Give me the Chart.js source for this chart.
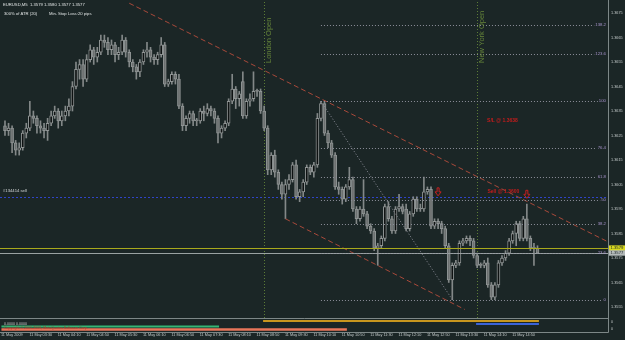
<!DOCTYPE html>
<html>
<head>
<meta charset="utf-8">
<script src="https://cdn.jsdelivr.net/npm/chart.js@4.4.0/dist/chart.umd.min.js"></script>
<style>
  html, body { margin: 0; padding: 0; background: #1b2626; }
  canvas { display: block; }
</style>
</head>
<body>
<canvas id="chart" width="625" height="340"></canvas>
<script>
// EURUSD M5, 11 May 2009 - one value per bar
const openP = [1.3629,1.3627,1.3628,1.3622,1.3619,1.3620,1.3626,1.3628,1.3633,1.3632,
  1.3629,1.3628,1.3627,1.3630,1.3633,1.3635,1.3631,1.3633,1.3635,1.3637,
  1.3645,1.3652,1.3654,1.3648,1.3656,1.3660,1.3657,1.3659,1.3664,1.3663,
  1.3660,1.3662,1.3658,1.3659,1.3664,1.3659,1.3655,1.3653,1.3651,1.3655,
  1.3659,1.3660,1.3657,1.3656,1.3658,1.3662,1.3646,1.3647,1.3650,1.3648,
  1.3637,1.3629,1.3632,1.3634,1.3631,1.3631,1.3635,1.3634,1.3636,1.3635,
  1.3632,1.3626,1.3628,1.3630,1.3639,1.3644,1.3640,1.3647,1.3633,1.3639,
  1.3640,1.3643,1.3643,1.3635,1.3628,1.3611,1.3617,1.3610,1.3605,1.3601,
  1.3605,1.3607,1.3613,1.3600,1.3602,1.3606,1.3612,1.3610,1.3613,1.3632,
  1.3638,1.3626,1.3622,1.3617,1.3604,1.3603,1.3599,1.3604,1.3607,1.3595,
  1.3591,1.3595,1.3593,1.3588,1.3586,1.3579,1.3580,1.3583,1.3596,1.3591,
  1.3586,1.3595,1.3596,1.3595,1.3587,1.3593,1.3599,1.3595,1.3595,1.3602,
  1.3603,1.3588,1.3590,1.3589,1.3587,1.3580,1.3566,1.3572,1.3573,1.3581,
  1.3582,1.3583,1.3582,1.3576,1.3572,1.3572,1.3573,1.3564,1.3559,1.3564,
  1.3573,1.3575,1.3577,1.3582,1.3585,1.3589,1.3583,1.3591,1.3583,1.3579,
  1.3579];
const highP = [1.3631,1.3630,1.3629,1.3623,1.3622,1.3627,1.3630,1.3639,1.3635,1.3633,
  1.3631,1.3630,1.3632,1.3635,1.3637,1.3636,1.3635,1.3637,1.3640,1.3647,
  1.3655,1.3656,1.3656,1.3658,1.3662,1.3661,1.3661,1.3666,1.3666,1.3665,
  1.3664,1.3663,1.3661,1.3666,1.3665,1.3660,1.3656,1.3654,1.3656,1.3660,
  1.3663,1.3661,1.3658,1.3659,1.3665,1.3663,1.3648,1.3651,1.3651,1.3650,
  1.3638,1.3633,1.3635,1.3635,1.3632,1.3636,1.3637,1.3638,1.3637,1.3636,
  1.3633,1.3629,1.3631,1.3640,1.3650,1.3645,1.3643,1.3651,1.3640,1.3642,
  1.3651,1.3644,1.3644,1.3637,1.3629,1.3618,1.3619,1.3611,1.3606,1.3607,
  1.3609,1.3614,1.3615,1.3603,1.3607,1.3613,1.3613,1.3614,1.3634,1.3639,
  1.3639,1.3627,1.3623,1.3618,1.3606,1.3604,1.3605,1.3612,1.3608,1.3596,
  1.3596,1.3607,1.3594,1.3589,1.3587,1.3581,1.3584,1.3597,1.3598,1.3592,
  1.3596,1.3601,1.3597,1.3597,1.3594,1.3600,1.3600,1.3597,1.3608,1.3604,
  1.3604,1.3591,1.3591,1.3590,1.3588,1.3581,1.3573,1.3574,1.3582,1.3583,
  1.3584,1.3584,1.3583,1.3577,1.3573,1.3574,1.3575,1.3565,1.3565,1.3574,
  1.3576,1.3578,1.3583,1.3586,1.3590,1.3590,1.3592,1.3597,1.3584,1.3581,
  1.3580];
const lowP = [1.3625,1.3625,1.3618,1.3617,1.3617,1.3619,1.3624,1.3627,1.3630,1.3626,
  1.3626,1.3624,1.3623,1.3629,1.3632,1.3628,1.3629,1.3631,1.3633,1.3635,
  1.3644,1.3648,1.3645,1.3647,1.3655,1.3654,1.3655,1.3658,1.3661,1.3658,
  1.3658,1.3655,1.3656,1.3658,1.3657,1.3653,1.3651,1.3648,1.3649,1.3654,
  1.3657,1.3655,1.3654,1.3654,1.3657,1.3645,1.3645,1.3646,1.3646,1.3636,
  1.3627,1.3627,1.3630,1.3629,1.3629,1.3630,1.3631,1.3633,1.3633,1.3630,
  1.3622,1.3624,1.3627,1.3629,1.3638,1.3636,1.3637,1.3632,1.3632,1.3637,
  1.3639,1.3641,1.3634,1.3627,1.3609,1.3609,1.3608,1.3603,1.3599,1.3591,
  1.3603,1.3606,1.3599,1.3598,1.3600,1.3605,1.3609,1.3608,1.3612,1.3631,
  1.3625,1.3620,1.3616,1.3603,1.3601,1.3597,1.3598,1.3603,1.3594,1.3589,
  1.3590,1.3592,1.3587,1.3585,1.3578,1.3572,1.3579,1.3582,1.3590,1.3585,
  1.3585,1.3594,1.3593,1.3586,1.3586,1.3592,1.3594,1.3594,1.3594,1.3601,
  1.3587,1.3587,1.3587,1.3585,1.3579,1.3565,1.3558,1.3571,1.3572,1.3580,
  1.3581,1.3580,1.3575,1.3571,1.3571,1.3571,1.3563,1.3558,1.3558,1.3563,
  1.3572,1.3574,1.3576,1.3581,1.3580,1.3582,1.3582,1.3582,1.3578,1.3572,
  1.3577];
const closeP = [1.3627,1.3628,1.3622,1.3619,1.3620,1.3626,1.3628,1.3633,1.3632,1.3629,
  1.3628,1.3627,1.3630,1.3633,1.3635,1.3631,1.3633,1.3635,1.3637,1.3645,
  1.3652,1.3654,1.3648,1.3656,1.3660,1.3657,1.3659,1.3664,1.3663,1.3660,
  1.3662,1.3658,1.3659,1.3664,1.3659,1.3655,1.3653,1.3651,1.3655,1.3659,
  1.3660,1.3657,1.3656,1.3658,1.3662,1.3646,1.3647,1.3650,1.3648,1.3637,
  1.3629,1.3632,1.3634,1.3631,1.3631,1.3635,1.3634,1.3636,1.3635,1.3632,
  1.3626,1.3628,1.3630,1.3639,1.3644,1.3640,1.3642,1.3633,1.3639,1.3640,
  1.3643,1.3643,1.3635,1.3628,1.3611,1.3617,1.3610,1.3605,1.3601,1.3605,
  1.3607,1.3613,1.3600,1.3602,1.3606,1.3612,1.3610,1.3613,1.3632,1.3638,
  1.3626,1.3622,1.3617,1.3604,1.3603,1.3599,1.3604,1.3607,1.3595,1.3591,
  1.3595,1.3593,1.3588,1.3586,1.3579,1.3580,1.3583,1.3596,1.3591,1.3586,
  1.3595,1.3596,1.3594,1.3587,1.3593,1.3599,1.3595,1.3595,1.3602,1.3603,
  1.3588,1.3590,1.3589,1.3587,1.3580,1.3566,1.3572,1.3573,1.3581,1.3582,
  1.3583,1.3582,1.3576,1.3572,1.3572,1.3573,1.3564,1.3559,1.3564,1.3573,
  1.3575,1.3577,1.3582,1.3585,1.3589,1.3583,1.3591,1.3583,1.3579,1.3579,
  1.3577];

const timeLabels = ['11 May 2009','11 May 03:30','11 May 04:10','11 May 04:50','11 May 05:30',
  '11 May 06:10','11 May 06:50','11 May 07:30','11 May 08:10','11 May 08:50','11 May 09:30',
  '11 May 10:10','11 May 10:50','11 May 11:30','11 May 12:10','11 May 12:50','11 May 13:30',
  '11 May 14:10','11 May 14:50'];
const timeTickBars = [0,8,16,24,32,40,48,56,64,72,80,88,96,104,112,120,128,136,144];
const priceTicks = [1.3555,1.3565,1.3575,1.3585,1.3595,1.3605,1.3615,1.3625,1.3635,1.3645,1.3655,1.3665,1.3675];

// drawn objects
const upperTrendBar = [35, 170];
const upperTrendPrice = [1.3679, 1.35815];
const lowerTrendBar = [79, 129.5];
const lowerTrendPrice = [1.3591, 1.3554];
const fibBar = [89, 126];
const fibPrice = [1.3639, 1.3558];
const fibLevels = [0, 23.6, 38.2, 50, 61.8, 76.4, 100, 123.6, 138.2];
const sessionBars = [73, 133];
const sessionNames = ['London Open', 'New York Open'];
const orderPrice = 1.3600;
const askPrice = 1.3579;
const bidPrice = 1.3577;
const arrowBars = [122, 147];
const arrowPrices = [1.3602, 1.3601];

// indicator sub-window ranges (bars)
const stripFrom = [72.7, 132.7, -1, -1];
const stripTo = [150.4, 150.4, 60.3, 96.3];
const stripColors = ['#c8961e', '#3b63d8', '#35b574', '#e8765a'];

const FONT = 'Liberation Sans';
const bars = openP.map((_, i) => i);

function px(v) { return Math.round(v) + 0.5; }

const mtPlugin = {
  id: 'mt',
  beforeDraw(chart) {
    const ctx = chart.ctx;
    ctx.save();
    ctx.fillStyle = '#1b2626';
    ctx.fillRect(0, 0, chart.width, chart.height);
    ctx.restore();
  },
  beforeDatasetsDraw(chart) {
    const {ctx, chartArea: ca} = chart;
    const xs = chart.scales.x, ys = chart.scales.y;
    ctx.save();
    ctx.lineWidth = 1;
    // order line
    let y = px(ys.getPixelForValue(orderPrice));
    ctx.strokeStyle = '#2f44c8';
    ctx.setLineDash([2, 2]);
    ctx.beginPath(); ctx.moveTo(0, y); ctx.lineTo(ca.right, y); ctx.stroke();
    // session verticals
    ctx.strokeStyle = '#5c7c36';
    ctx.setLineDash([1, 2]);
    sessionBars.forEach(b => {
      const x = px(xs.getPixelForValue(b));
      ctx.beginPath(); ctx.moveTo(x, ca.top); ctx.lineTo(x, ca.bottom); ctx.stroke();
    });
    ctx.restore();
  },
  afterDatasetsDraw(chart) {
    const {ctx, chartArea: ca} = chart;
    const xs = chart.scales.x, ys = chart.scales.y;
    ctx.save();
    // ask / bid lines
    ctx.lineWidth = 1;
    ctx.setLineDash([]);
    let y = px(ys.getPixelForValue(askPrice));
    ctx.strokeStyle = '#a9a91c';
    ctx.beginPath(); ctx.moveTo(0, y); ctx.lineTo(ca.right, y); ctx.stroke();
    y = px(ys.getPixelForValue(bidPrice));
    ctx.strokeStyle = '#9aa2a2';
    ctx.beginPath(); ctx.moveTo(0, y); ctx.lineTo(ca.right, y); ctx.stroke();

    // fibonacci levels
    const fx0 = xs.getPixelForValue(fibBar[0]);
    ctx.font = '4.3px ' + FONT;
    ctx.textBaseline = 'middle';
    ctx.textAlign = 'right';
    fibLevels.forEach(lvl => {
      const p = fibPrice[1] + (fibPrice[0] - fibPrice[1]) * lvl / 100;
      const yy = px(ys.getPixelForValue(p));
      const label = String(lvl);
      const w = ctx.measureText(label).width;
      ctx.strokeStyle = '#8d8f9a';
      ctx.setLineDash([1, 2]);
      ctx.beginPath(); ctx.moveTo(fx0, yy); ctx.lineTo(606 - w - 1, yy); ctx.stroke();
      ctx.fillStyle = '#a894cc';
      ctx.fillText(label, 606, yy - 1);
    });

    // session labels (vertical text)
    ctx.fillStyle = '#66853a';
    ctx.font = '7.5px ' + FONT;
    ctx.textAlign = 'left';
    ctx.textBaseline = 'top';
    sessionBars.forEach((b, k) => {
      const x = xs.getPixelForValue(b) + 1;
      ctx.save();
      ctx.translate(x, 63);
      ctx.rotate(-Math.PI / 2);
      ctx.fillText(sessionNames[k], 0, 0);
      ctx.restore();
    });

    // sell arrows
    ctx.strokeStyle = '#c42020';
    ctx.lineWidth = 1;
    ctx.setLineDash([]);
    arrowBars.forEach((b, k) => {
      const x = xs.getPixelForValue(b);
      const yy = ys.getPixelForValue(arrowPrices[k]);
      ctx.beginPath();
      ctx.moveTo(x - 1, yy - 4); ctx.lineTo(x + 1, yy - 4); ctx.lineTo(x + 1, yy);
      ctx.lineTo(x + 3, yy); ctx.lineTo(x, yy + 4); ctx.lineTo(x - 3, yy);
      ctx.lineTo(x - 1, yy); ctx.closePath();
      ctx.stroke();
    });

    // trade texts
    ctx.fillStyle = '#c41c1c';
    ctx.font = 'bold 5px ' + FONT;
    ctx.textBaseline = 'middle';
    ctx.fillText('S/L @ 1.3638', xs.getPixelForValue(135.8), ys.getPixelForValue(1.3631));
    ctx.fillText('Sell @ 1.3600', xs.getPixelForValue(135.9), ys.getPixelForValue(1.3602));
    ctx.fillStyle = '#d8dcdc';
    ctx.font = '4.2px ' + FONT;
    ctx.fillText('#134414 sell', 3, ys.getPixelForValue(orderPrice) - 6);
    ctx.restore();
  },
  afterDraw(chart) {
    const {ctx, chartArea: ca} = chart;
    const xs = chart.scales.x;
    ctx.save();
    // frame of main window and indicator window
    ctx.strokeStyle = '#7d8787';
    ctx.lineWidth = 1;
    ctx.beginPath();
    ctx.moveTo(px(ca.right), 0); ctx.lineTo(px(ca.right), 332.5);
    ctx.moveTo(0, 318.5); ctx.lineTo(px(ca.right), 318.5);
    ctx.moveTo(0, 332.5); ctx.lineTo(px(ca.right), 332.5);
    ctx.stroke();

    // indicator strips
    const rows = [321, 324, 326.5, 329.5];
    const widths = [2, 2, 2, 2.5];
    stripColors.forEach((c, k) => {
      const x0 = Math.max(0, xs.getPixelForValue(stripFrom[k]));
      const x1 = xs.getPixelForValue(stripTo[k]);
      ctx.fillStyle = c;
      ctx.fillRect(x0, rows[k] - widths[k] / 2, x1 - x0, widths[k]);
    });
    ctx.font = '3.6px ' + FONT;
    ctx.textBaseline = 'middle';
    ctx.textAlign = 'left';
    ctx.fillStyle = '#c8cccc';
    ctx.fillText('0.0000 0.0000', 4, 323.5);
    ctx.fillStyle = '#b83a2a';
    ctx.fillText('Copyright \u00a9 2001-2009, MetaQuotes Software Corp.', 4, 328.3);
    ctx.fillStyle = '#c8cccc';
    ctx.fillText('0', 611, 322);
    ctx.fillText('0', 611, 329);

    // price tags on the axis
    const ys = chart.scales.y;
    ctx.font = '4.2px ' + FONT;
    [[askPrice, '#d8d820', '#1b2626'], [bidPrice, '#b4baba', '#1b2626']].forEach(t => {
      const yy = ys.getPixelForValue(t[0]);
      ctx.fillStyle = t[1];
      ctx.fillRect(609, yy - 2.8, 16, 5.4);
      ctx.fillStyle = t[2];
      ctx.fillText(t[0].toFixed(4), 610.5, yy);
    });

    // header
    const n = closeP.length - 1;
    ctx.fillStyle = '#dfe3e3';
    ctx.font = '4.2px ' + FONT;
    ctx.fillText('EURUSD,M5  ' + [openP[n], highP[n], lowP[n], closeP[n]].map(v => v.toFixed(4)).join(' '), 3, 4.5);
    ctx.fillText('300% of ATR (20)', 4, 14);
    ctx.fillText('Min. Stop Loss:', 49, 14);
    ctx.fillText('20 pips', 78, 14);
    ctx.restore();
  }
};

const trendStyle = { type: 'line', borderColor: '#a8493a', borderWidth: 1, borderDash: [5, 3],
  pointRadius: 0, fill: false, order: 0 };

new Chart(document.getElementById('chart'), {
  type: 'bar',
  data: {
    datasets: [
      Object.assign({ label: 'upper trend', data: upperTrendBar.map((b, i) => ({ x: b, y: upperTrendPrice[i] })) }, trendStyle),
      Object.assign({ label: 'lower trend', data: lowerTrendBar.map((b, i) => ({ x: b, y: lowerTrendPrice[i] })) }, trendStyle),
      { type: 'line', label: 'fib', data: fibBar.map((b, i) => ({ x: b, y: fibPrice[i] })),
        borderColor: '#8d8f9a', borderWidth: 1, borderDash: [1, 2], pointRadius: 0, order: 0 },
      { label: 'body', data: bars.map(i => ({ x: i, y: [openP[i], closeP[i]] })),
        backgroundColor: ctx => closeP[ctx.dataIndex] > openP[ctx.dataIndex] ? '#0e1212' : '#6c7070',
        borderColor: '#8f9494', borderWidth: 1, borderSkipped: false,
        barThickness: 3, minBarLength: 1, grouped: false, order: 2 },
      { label: 'wick', data: bars.map(i => ({ x: i, y: [lowP[i], highP[i]] })),
        backgroundColor: '#838888', barThickness: 1, grouped: false, order: 3 }
    ]
  },
  options: {
    responsive: false,
    animation: false,
    events: [],
    layout: { padding: { left: 3, top: 2, right: 0, bottom: 0 } },
    plugins: { legend: { display: false }, tooltip: { enabled: false } },
    scales: {
      x: {
        type: 'linear', offset: false, min: -0.56, max: 169.86,
        grid: { display: false, drawTicks: false }, border: { display: false },
        afterBuildTicks: s => { s.ticks = timeTickBars.map(v => ({ value: v })); },
        afterFit: s => { s.height = 22; s.paddingLeft = 0; s.paddingRight = 0; },
        ticks: {
          autoSkip: false, maxRotation: 0, minRotation: 0, align: 'start', labelOffset: -4,
          padding: 15, color: '#c4caca', font: { family: FONT, size: 3.8 },
          callback: (v, i) => timeLabels[i]
        }
      },
      y: {
        type: 'linear', position: 'right', min: 1.35505, max: 1.36795,
        grid: { display: false, drawTicks: false }, border: { display: false },
        afterBuildTicks: s => { s.ticks = priceTicks.map(v => ({ value: v })); },
        afterFit: s => { s.width = 17; s.paddingTop = 0; s.paddingBottom = 0; },
        ticks: { padding: 3, color: '#c4caca', font: { family: FONT, size: 3.8 },
          callback: v => v.toFixed(4) }
      }
    }
  },
  plugins: [mtPlugin]
});
</script>
</body>
</html>
